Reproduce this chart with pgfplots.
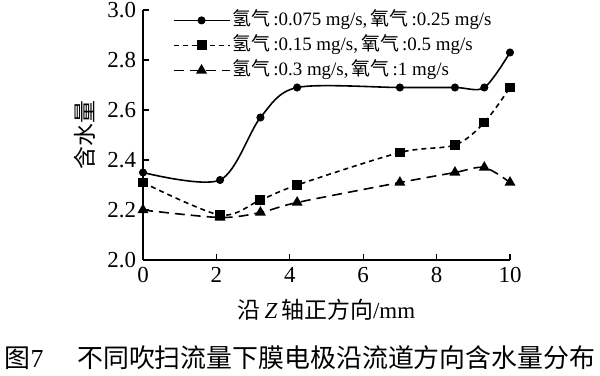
\documentclass[border=0pt]{standalone}
\usepackage{pgfplots}
\pgfplotsset{compat=1.18}
\usepackage{fontspec}
\setmainfont{Liberation Serif}
\newfontfamily\cjk{Noto Sans CJK SC}
\begin{document}
\begin{tikzpicture}
\useasboundingbox (-71.5bp,-58bp) rectangle (228.5bp,130bp);
\begin{axis}[
  scale only axis,
  width=183.5bp, height=125bp,
  xmin=0, xmax=10, ymin=2.0, ymax=3.0,
  axis lines=left,
  axis line style={-, line width=0.6pt},
  tick align=inside,
  tick style={black, line width=0.6pt},
  major tick length=3bp,
  xtick={0,2,4,6,8,10},
  ytick={2.0,2.2,2.4,2.6,2.8,3.0},
  yticklabel style={/pgf/number format/.cd, fixed, fixed zerofill, precision=1},
  /pgf/number format/assume math mode=true,
  ticklabel style={font=\fontsize{11.5}{13}\selectfont},
  xlabel={{\cjk 沿}\,\textit{Z}\,{\cjk 轴正方向}/mm},
  ylabel={\cjk 含水量},
  label style={font=\fontsize{11.5}{13}\selectfont},
  xlabel style={at={(axis description cs:0.5,0)}, anchor=center, yshift=-25bp},
  ylabel style={at={(axis description cs:0,0.5)}, anchor=center, xshift=0bp, yshift=29bp},
  legend style={draw=none, fill=none, at={(axis cs:0.8,3.01)}, anchor=north west,
    font=\fontsize{9.5}{11}\selectfont, row sep=0bp, inner sep=0bp,
    nodes={text height=8bp, text depth=2.5bp, inner sep=1bp}},
  legend cell align=left,
  legend image code/.code={\draw[#1, mark=none] plot coordinates {(0bp,0bp) (28bp,0bp)};
     \draw[#1, only marks] plot coordinates {(14bp,0bp)};},
]
\addplot[black, line width=0.8pt, smooth, tension=0.5, mark=*, mark size=1.6bp] coordinates {
  (0,2.35) (2.1,2.32) (3.2,2.57) (4.2,2.69) (7.0,2.69) (8.5,2.69) (9.3,2.69) (10,2.83)};
\addlegendentry{{\cjk 氢气}\,:0.075 mg/s,\,{\cjk 氧气}\,:0.25 mg/s}
\addplot[black, line width=0.8pt, dash pattern=on 2.5bp off 2bp, smooth, tension=0.5, mark=square*, mark size=2.1bp, mark options={solid}] coordinates {
  (0,2.31) (2.1,2.18) (3.2,2.24) (4.2,2.30) (7.0,2.43) (8.5,2.46) (9.3,2.55) (10,2.69)};
\addlegendentry{{\cjk 氢气}\,:0.15 mg/s,\,{\cjk 氧气}\,:0.5 mg/s}
\addplot[black, line width=0.8pt, dash pattern=on 5bp off 3bp, smooth, tension=0.5, mark=triangle*, mark size=2.4bp, mark options={solid}] coordinates {
  (0,2.20) (2.1,2.17) (3.2,2.19) (4.2,2.23) (7.0,2.31) (8.5,2.35) (9.3,2.37) (10,2.31)};
\addlegendentry{{\cjk 氢气}\,:0.3 mg/s,\,{\cjk 氧气}\,:1 mg/s}
\end{axis}
\node[anchor=center, font=\fontsize{13}{15}\selectfont] at (78.5bp,-49bp)
  {{\cjk 图}7\hspace{1.3em}{\cjk 不同吹扫流量下膜电极沿流道方向含水量分布}};
\end{tikzpicture}
\end{document}
